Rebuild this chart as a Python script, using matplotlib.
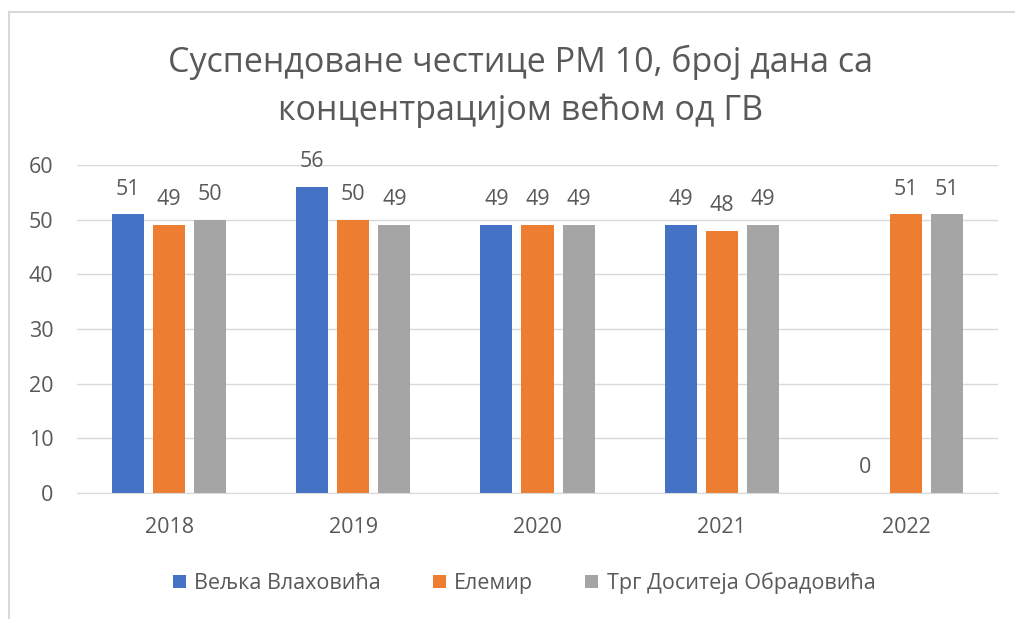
import matplotlib.pyplot as plt
import numpy as np

plt.rcParams['font.family'] = ['Open Sans', 'DejaVu Sans']

years = ["2018", "2019", "2020", "2021", "2022"]
series_names = ["Вељка Влаховића", "Елемир", "Трг Доситеја Обрадовића"]
vljka = [51, 56, 49, 49, 0]
elemir = [49, 50, 49, 48, 51]
trg = [50, 49, 49, 49, 51]
colors = ["#4472C4", "#ED7D31", "#A5A5A5"]

W, H = 1015, 619
fig = plt.figure(figsize=(W / 100, H / 100), dpi=100)

# cropped chart frame (only left and top edges visible)
fig.add_artist(plt.Line2D([9 / W, 9 / W], [0, 1 - 12 / H], color="#d9d9d9", lw=1.5))
fig.add_artist(plt.Line2D([9 / W, 1], [1 - 12 / H, 1 - 12 / H], color="#d9d9d9", lw=1.5))

ax = fig.add_axes([77 / W, 1 - 493 / H, (998 - 77) / W, (493 - 165) / H])

x = np.arange(len(years))
bw = 0.174
step = 0.223
text_col = "#595959"
fs = 15.5
for i, (vals, name, c) in enumerate(zip([vljka, elemir, trg], series_names, colors)):
    pos = x + (i - 1) * step
    ax.bar(pos, vals, width=bw, color=c, label=name, zorder=3)
    for p, v in zip(pos, vals):
        ax.text(p, v + 4.6, str(v), ha="center", va="center", fontsize=fs, color=text_col)

ax.set_xlim(-0.5, 4.5)
ax.set_ylim(0, 60)
ax.set_yticks(range(0, 61, 10))
ax.set_xticks(x)
ax.set_xticklabels(years)
ax.yaxis.grid(True, color="#d9d9d9", lw=1, zorder=0)
for s in ["top", "right", "left"]:
    ax.spines[s].set_visible(False)
ax.spines["bottom"].set_color("#d9d9d9")
ax.spines["bottom"].set_zorder(4)
ax.tick_params(axis="both", length=0, labelsize=fs, colors=text_col)
ax.tick_params(axis="y", pad=17)
ax.tick_params(axis="x", pad=17)

fig.text(521 / W, 1 - 86 / H, "Суспендоване честице PM 10, број дана са\nконцентрацијом већом од ГВ",
         ha="center", va="center", fontsize=24.5, color=text_col, linespacing=1.5)

fig.legend(loc="center", bbox_to_anchor=(524 / W, 1 - 583 / H), ncol=3, frameon=False,
           fontsize=fs, labelcolor=text_col, handlelength=0.6, handleheight=0.6,
           handletextpad=0.4, columnspacing=2.4)

fig.savefig("out.png", dpi=100)
